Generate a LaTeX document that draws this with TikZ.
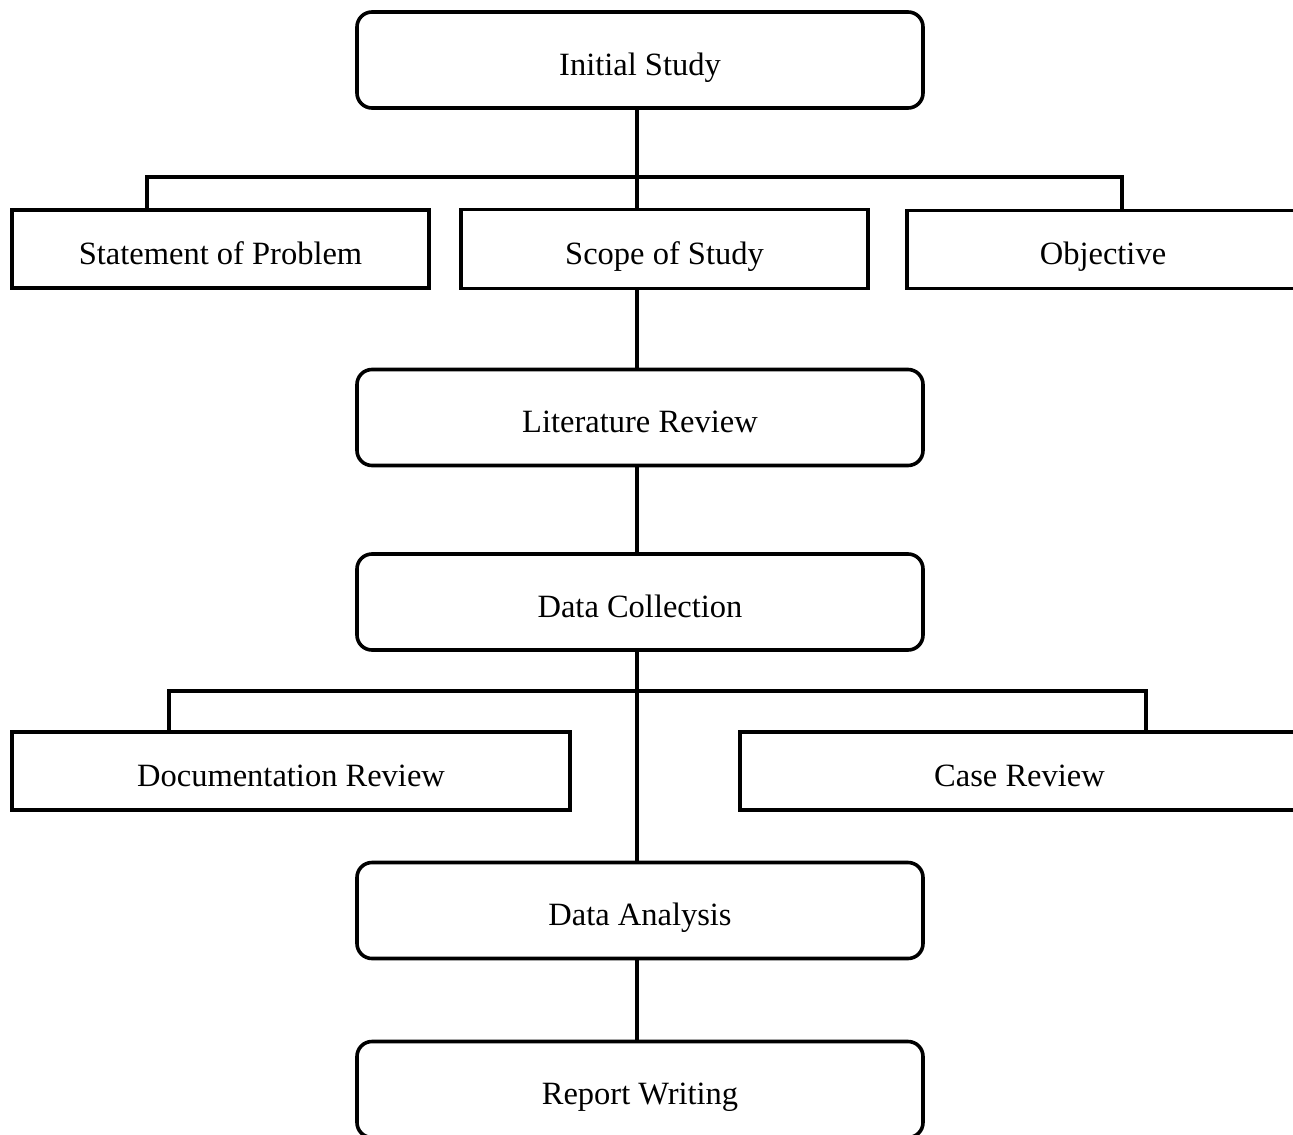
\documentclass[tikz,border=0pt]{standalone}
\usepackage{fontspec}
\setmainfont{Liberation Serif}
\begin{document}
\begin{tikzpicture}[x=1pt,y=-1pt,
  every node/.style={font=\fontsize{32.5}{38}\selectfont, inner sep=0pt, text height=36pt, text depth=6pt, line width=3.6pt, draw=black},
  roundbox/.style={rounded corners=15pt, minimum width=566pt, minimum height=96pt},
  sqbox/.style={minimum height=78pt},
  conn/.style={line width=3.6pt, line join=miter}]
\useasboundingbox (0,0) rectangle (1293,1135);
\clip (0,0) rectangle (1293,1135);
\fill[white] (0,0) rectangle (1293,1135);

\node[roundbox] (init) at (640,60) {Initial Study};
\node[sqbox, minimum width=417pt] (sop) at (220.5,249) {Statement of Problem};
\node[sqbox, minimum width=407pt, minimum height=79pt] (scope) at (664.5,249) {Scope of Study};
\node[sqbox, minimum width=392pt] (obj) at (1103,249.5) {Objective};
\node[roundbox] (lit) at (640,417.5) {Literature Review};
\node[roundbox] (dc) at (640,602) {Data Collection};
\node[sqbox, minimum width=558pt] (doc) at (291,771) {Documentation Review};
\node[sqbox, minimum width=559pt] (case) at (1019.5,771) {Case Review};
\node[roundbox] (da) at (640,910.5) {Data Analysis};
\node[roundbox] (rw) at (640,1089.5) {Report Writing};

\coordinate (trunk) at (637,0);
\coordinate (b1l) at (147,177);
\coordinate (b1r) at (1122,177);
\coordinate (b2l) at (169,691);
\coordinate (b2r) at (1146,691);

\draw[conn] (trunk |- init.south) -- (trunk |- scope.north);
\draw[conn] (b1l |- sop.north) -- (b1l) -- (b1r) -- (b1r |- obj.north);
\draw[conn] (trunk |- scope.south) -- (trunk |- lit.north);
\draw[conn] (trunk |- lit.south) -- (trunk |- dc.north);
\draw[conn] (trunk |- dc.south) -- (trunk |- da.north);
\draw[conn] (b2l |- doc.north) -- (b2l) -- (b2r) -- (b2r |- case.north);
\draw[conn] (trunk |- da.south) -- (trunk |- rw.north);
\end{tikzpicture}
\end{document}
